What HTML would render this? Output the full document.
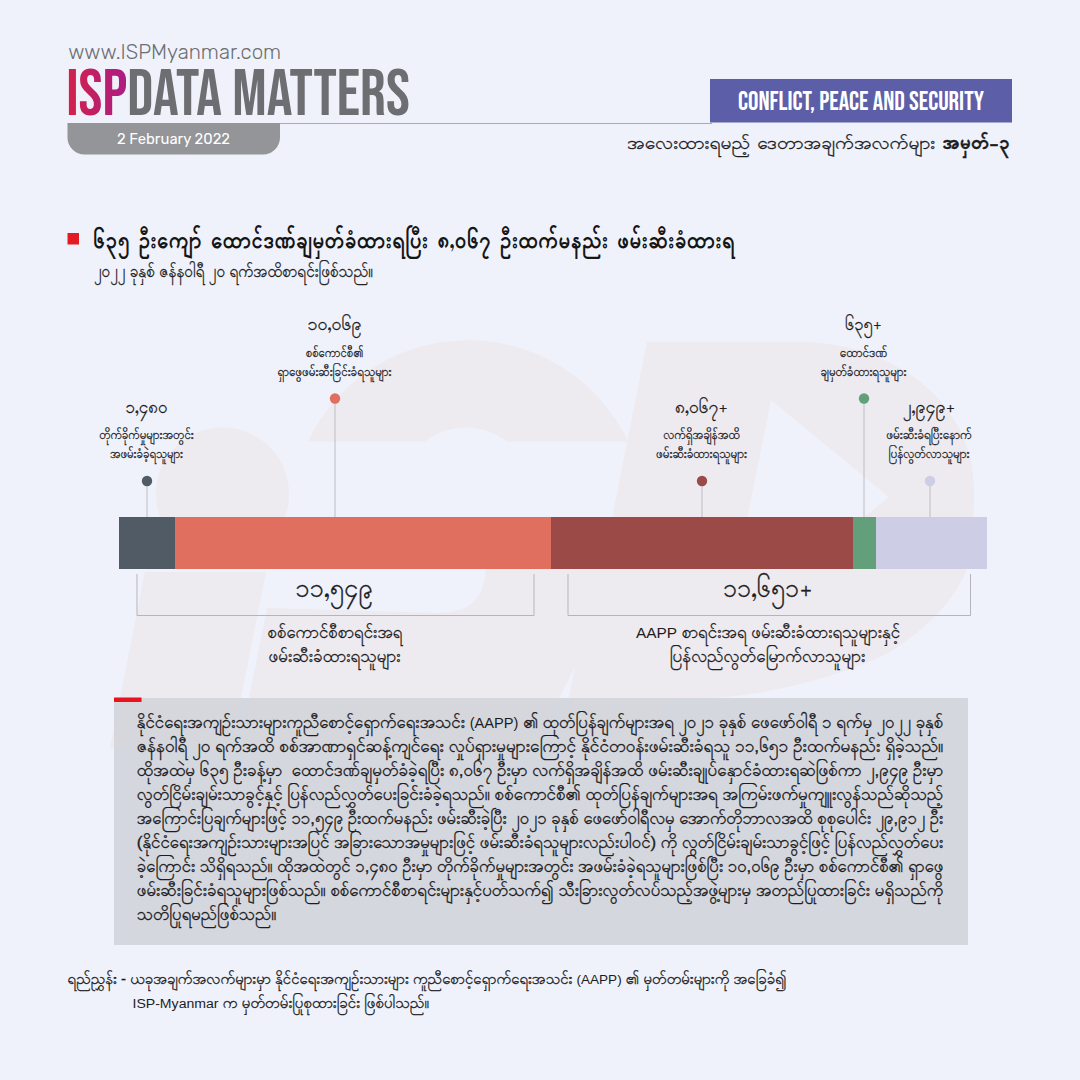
<!DOCTYPE html>
<html lang="my">
<head>
<meta charset="utf-8">
<title>ISP Data Matters</title>
<style>
html,body{margin:0;padding:0;background:#eff2fb;}
body{width:1080px;height:1080px;overflow:hidden;font-family:"Liberation Sans","Padauk","Noto Sans Myanmar",sans-serif;}
svg{display:block;}
text{white-space:pre;}
</style>
</head>
<body>
<svg width="1080" height="1080" viewBox="0 0 1080 1080">
<defs>
<linearGradient id="gisp" gradientUnits="userSpaceOnUse" x1="66" y1="0" x2="124" y2="0">
<stop offset="0" stop-color="#d3224b"/><stop offset="1" stop-color="#ae1d80"/>
</linearGradient>
</defs>
<rect width="1080" height="1080" fill="#eff2fb"/>
<g fill="#edeaf0" fill-rule="evenodd">
<circle cx="222.5" cy="494" r="66.5"/>
<path d="M145 572H266L231 748H110Z"/>
<path d="M308 441.5A177 177 0 0 1 628 441.5H507A67 67 0 0 0 425 441.5Z"/>
<path d="M267 608L440 613Q478 612 484 582L486 569H602L647 342H800C890 342 974 400 974 490C974 520 971 548 966 572C952 602 930 626 890 652C850 672 800 686 751 694C720 698 690 700 664 700L654 748H559L575 666L535 748H239Z M771 400L889 497L799 569H737Z"/>
</g>

<text x="68.2" y="59" font-size="21" font-weight="300" textLength="213" lengthAdjust="spacingAndGlyphs" fill="#6d6e71" style='font-family:"Rubik", "Liberation Sans", sans-serif'>www.ISPMyanmar.com</text>
<text x="66.3" y="114.9" font-size="65.5" font-weight="700" textLength="343.5" lengthAdjust="spacingAndGlyphs" style='font-family:"Bebas Neue", "Liberation Sans", sans-serif;font-synthesis:none'><tspan fill="url(#gisp)">ISP</tspan><tspan fill="#6d6e71">DATA MATTERS</tspan></text>
<rect x="280" y="123" width="432" height="1" fill="#a9abae"/>
<path d="M67.5 123H280V137.5a17 17 0 0 1-17 17H84.5a17 17 0 0 1-17-17Z" fill="#939598"/>
<text x="117" y="143.5" font-size="14.5" font-weight="400" textLength="113" lengthAdjust="spacingAndGlyphs" fill="#ffffff" style='font-family:"Rubik", "Liberation Sans", sans-serif'>2 February 2022</text>
<rect x="710" y="79" width="302" height="43.5" fill="#5c5fa8"/>
<text x="738" y="110.2" font-size="26.6" font-weight="700" textLength="246" lengthAdjust="spacingAndGlyphs" fill="#ffffff" style='font-family:"Bebas Neue", "Liberation Sans", sans-serif;font-synthesis:none'>CONFLICT, PEACE AND SECURITY</text>
<text x="627" y="149.4" font-size="18.5" stroke="#1d1d1f" stroke-width="0.3" textLength="383" lengthAdjust="spacingAndGlyphs" fill="#1d1d1f" style='font-family:"Padauk", "Noto Sans Myanmar", "Myanmar Text", "Liberation Sans", sans-serif'>အလေးထားရမည့် ဒေတာအချက်အလက်များ <tspan font-weight="700">အမှတ်-၃</tspan></text>
<rect x="67.5" y="233" width="11.5" height="11.5" fill="#e31b23"/>
<text x="93" y="247.7" font-size="23.5" font-weight="700" textLength="642" lengthAdjust="spacingAndGlyphs" fill="#161616" style='font-family:"Padauk", "Noto Sans Myanmar", "Myanmar Text", "Liberation Sans", sans-serif' word-spacing="-2">၆၃၅ ဦးကျော် ထောင်ဒဏ်ချမှတ်ခံထားရပြီး ၈,၀၆၇ ဦးထက်မနည်း ဖမ်းဆီးခံထားရ</text>
<text x="94" y="277" font-size="17.5" textLength="279" lengthAdjust="spacingAndGlyphs" fill="#222" style='font-family:"Padauk", "Noto Sans Myanmar", "Myanmar Text", "Liberation Sans", sans-serif' word-spacing="-1.5" stroke="#222" stroke-width="0.3">၂၀၂၂ ခုနှစ် ဇန်နဝါရီ ၂၀ ရက်အထိစာရင်းဖြစ်သည်။</text>
<rect x="119" y="517" width="56" height="52" fill="#515b66"/>
<rect x="175" y="517" width="376" height="52" fill="#e06f60"/>
<rect x="551" y="517" width="302" height="52" fill="#9b4a48"/>
<rect x="853" y="517" width="23" height="52" fill="#649f7c"/>
<rect x="876" y="517" width="111" height="52" fill="#cdcde6"/>
<rect x="146.5" y="481" width="1" height="36" fill="#bcbdc3"/>
<circle cx="147" cy="481" r="5.2" fill="#515b66"/>
<rect x="334.5" y="398.5" width="1" height="118.5" fill="#bcbdc3"/>
<circle cx="335" cy="398.5" r="5.2" fill="#e06f60"/>
<rect x="701.5" y="481" width="1" height="36" fill="#bcbdc3"/>
<circle cx="702" cy="481" r="5.2" fill="#9b4a48"/>
<rect x="863.5" y="398.5" width="1" height="118.5" fill="#bcbdc3"/>
<circle cx="864" cy="398.5" r="5.2" fill="#649f7c"/>
<rect x="929.5" y="481" width="1" height="36" fill="#bcbdc3"/>
<circle cx="930" cy="481" r="5.2" fill="#cdcde6"/>
<path d="M137 574V615.5H534V574" fill="none" stroke="#b4b5b9" stroke-width="1"/>
<path d="M568 574V615.5H970.5V574" fill="none" stroke="#b4b5b9" stroke-width="1"/>
<text x="146.5" y="413" font-size="18" text-anchor="middle" textLength="42" lengthAdjust="spacingAndGlyphs" fill="#1d1d1f" style='font-family:"Padauk", "Noto Sans Myanmar", "Myanmar Text", "Liberation Sans", sans-serif' stroke="#1d1d1f" stroke-width="0.3">၁,၄၈၀</text>
<text x="146.5" y="438.8" font-size="12.5" text-anchor="middle" textLength="94.5" lengthAdjust="spacingAndGlyphs" fill="#1d1d1f" style='font-family:"Padauk", "Noto Sans Myanmar", "Myanmar Text", "Liberation Sans", sans-serif' stroke="#1d1d1f" stroke-width="0.3">တိုက်ခိုက်မှုများအတွင်း</text>
<text x="146.5" y="457.9" font-size="12.5" text-anchor="middle" textLength="73" lengthAdjust="spacingAndGlyphs" fill="#1d1d1f" style='font-family:"Padauk", "Noto Sans Myanmar", "Myanmar Text", "Liberation Sans", sans-serif' stroke="#1d1d1f" stroke-width="0.3">အဖမ်းခံခဲ့ရသူများ</text>
<text x="334.5" y="330.3" font-size="18" text-anchor="middle" textLength="54" lengthAdjust="spacingAndGlyphs" fill="#1d1d1f" style='font-family:"Padauk", "Noto Sans Myanmar", "Myanmar Text", "Liberation Sans", sans-serif' stroke="#1d1d1f" stroke-width="0.3">၁၀,၀၆၉</text>
<text x="334.5" y="356.5" font-size="12.5" text-anchor="middle" textLength="57.5" lengthAdjust="spacingAndGlyphs" fill="#1d1d1f" style='font-family:"Padauk", "Noto Sans Myanmar", "Myanmar Text", "Liberation Sans", sans-serif' stroke="#1d1d1f" stroke-width="0.3">စစ်ကောင်စီ၏</text>
<text x="334.5" y="375.5" font-size="12.5" text-anchor="middle" textLength="114" lengthAdjust="spacingAndGlyphs" fill="#1d1d1f" style='font-family:"Padauk", "Noto Sans Myanmar", "Myanmar Text", "Liberation Sans", sans-serif' stroke="#1d1d1f" stroke-width="0.3">ရှာဖွေဖမ်းဆီးခြင်းခံရသူများ</text>
<text x="701.5" y="413" font-size="18" text-anchor="middle" textLength="53" lengthAdjust="spacingAndGlyphs" fill="#1d1d1f" style='font-family:"Padauk", "Noto Sans Myanmar", "Myanmar Text", "Liberation Sans", sans-serif' stroke="#1d1d1f" stroke-width="0.3">၈,၀၆၇+</text>
<text x="701.5" y="438.8" font-size="12.5" text-anchor="middle" textLength="76.5" lengthAdjust="spacingAndGlyphs" fill="#1d1d1f" style='font-family:"Padauk", "Noto Sans Myanmar", "Myanmar Text", "Liberation Sans", sans-serif' stroke="#1d1d1f" stroke-width="0.3">လက်ရှိအချိန်အထိ</text>
<text x="701.5" y="457.9" font-size="12.5" text-anchor="middle" textLength="91" lengthAdjust="spacingAndGlyphs" fill="#1d1d1f" style='font-family:"Padauk", "Noto Sans Myanmar", "Myanmar Text", "Liberation Sans", sans-serif' stroke="#1d1d1f" stroke-width="0.3">ဖမ်းဆီးခံထားရသူများ</text>
<text x="863.5" y="330.3" font-size="18" text-anchor="middle" textLength="37" lengthAdjust="spacingAndGlyphs" fill="#1d1d1f" style='font-family:"Padauk", "Noto Sans Myanmar", "Myanmar Text", "Liberation Sans", sans-serif' stroke="#1d1d1f" stroke-width="0.3">၆၃၅+</text>
<text x="863.5" y="356.5" font-size="12.5" text-anchor="middle" textLength="47.5" lengthAdjust="spacingAndGlyphs" fill="#1d1d1f" style='font-family:"Padauk", "Noto Sans Myanmar", "Myanmar Text", "Liberation Sans", sans-serif' stroke="#1d1d1f" stroke-width="0.3">ထောင်ဒဏ်</text>
<text x="863.5" y="375.5" font-size="12.5" text-anchor="middle" textLength="86" lengthAdjust="spacingAndGlyphs" fill="#1d1d1f" style='font-family:"Padauk", "Noto Sans Myanmar", "Myanmar Text", "Liberation Sans", sans-serif' stroke="#1d1d1f" stroke-width="0.3">ချမှတ်ခံထားရသူများ</text>
<text x="929" y="413" font-size="18" text-anchor="middle" textLength="52.5" lengthAdjust="spacingAndGlyphs" fill="#1d1d1f" style='font-family:"Padauk", "Noto Sans Myanmar", "Myanmar Text", "Liberation Sans", sans-serif' stroke="#1d1d1f" stroke-width="0.3">၂,၉၄၉+</text>
<text x="929" y="438.8" font-size="12.5" text-anchor="middle" textLength="85.5" lengthAdjust="spacingAndGlyphs" fill="#1d1d1f" style='font-family:"Padauk", "Noto Sans Myanmar", "Myanmar Text", "Liberation Sans", sans-serif' stroke="#1d1d1f" stroke-width="0.3">ဖမ်းဆီးခံရပြီးနောက်</text>
<text x="929" y="457.9" font-size="12.5" text-anchor="middle" textLength="81" lengthAdjust="spacingAndGlyphs" fill="#1d1d1f" style='font-family:"Padauk", "Noto Sans Myanmar", "Myanmar Text", "Liberation Sans", sans-serif' stroke="#1d1d1f" stroke-width="0.3">ပြန်လွတ်လာသူများ</text>
<text x="334" y="597" font-size="26" text-anchor="middle" textLength="77.5" lengthAdjust="spacingAndGlyphs" fill="#1d1d1f" style='font-family:"Padauk", "Noto Sans Myanmar", "Myanmar Text", "Liberation Sans", sans-serif' stroke="#1d1d1f" stroke-width="0.3">၁၁,၅၄၉</text>
<text x="335" y="637.7" font-size="17" text-anchor="middle" textLength="135" lengthAdjust="spacingAndGlyphs" fill="#1d1d1f" style='font-family:"Padauk", "Noto Sans Myanmar", "Myanmar Text", "Liberation Sans", sans-serif' stroke="#1d1d1f" stroke-width="0.3">စစ်ကောင်စီစာရင်းအရ</text>
<text x="334.5" y="662.2" font-size="17" text-anchor="middle" textLength="132" lengthAdjust="spacingAndGlyphs" fill="#1d1d1f" style='font-family:"Padauk", "Noto Sans Myanmar", "Myanmar Text", "Liberation Sans", sans-serif' stroke="#1d1d1f" stroke-width="0.3">ဖမ်းဆီးခံထားရသူများ</text>
<text x="768" y="597" font-size="26" text-anchor="middle" textLength="90" lengthAdjust="spacingAndGlyphs" fill="#1d1d1f" style='font-family:"Padauk", "Noto Sans Myanmar", "Myanmar Text", "Liberation Sans", sans-serif' stroke="#1d1d1f" stroke-width="0.3">၁၁,၆၅၁+</text>
<text x="768" y="637.7" font-size="17" text-anchor="middle" textLength="264" lengthAdjust="spacingAndGlyphs" fill="#1d1d1f" style='font-family:"Liberation Sans", "Padauk", "Noto Sans Myanmar", "Myanmar Text", sans-serif' stroke="#1d1d1f" stroke-width="0.3"><tspan font-size="15.5" stroke="none">AAPP</tspan> စာရင်းအရ ဖမ်းဆီးခံထားရသူများနှင့်</text>
<text x="767.5" y="662.2" font-size="17" text-anchor="middle" textLength="195.5" lengthAdjust="spacingAndGlyphs" fill="#1d1d1f" style='font-family:"Padauk", "Noto Sans Myanmar", "Myanmar Text", "Liberation Sans", sans-serif' stroke="#1d1d1f" stroke-width="0.3">ပြန်လည်လွတ်မြောက်လာသူများ</text>
<rect x="114" y="698" width="854" height="247" fill="#d3d5dc" fill-opacity="0.93"/>
<rect x="114" y="697.5" width="27.5" height="4.5" fill="#e8131b"/>
<text x="136.8" y="727.75" font-size="17" textLength="806.5" lengthAdjust="spacingAndGlyphs" fill="#1d1d1f" style='font-family:"Liberation Sans", "Padauk", "Noto Sans Myanmar", "Myanmar Text", sans-serif' xml:space="preserve" stroke="#1d1d1f" stroke-width="0.35">နိုင်ငံရေးအကျဉ်းသားများကူညီစောင့်ရှောက်ရေးအသင်း <tspan font-size="14.79" stroke="none">(AAPP)</tspan> ၏ ထုတ်ပြန်ချက်များအရ ၂၀၂၁ ခုနှစ် ဖေဖော်ဝါရီ ၁ ရက်မှ ၂၀၂၂ ခုနှစ်</text>
<text x="136.8" y="751.75" font-size="17" textLength="806.5" lengthAdjust="spacingAndGlyphs" fill="#1d1d1f" style='font-family:"Liberation Sans", "Padauk", "Noto Sans Myanmar", "Myanmar Text", sans-serif' xml:space="preserve" stroke="#1d1d1f" stroke-width="0.35">ဇန်နဝါရီ ၂၀ ရက်အထိ စစ်အာဏာရှင်ဆန့်ကျင်ရေး လှုပ်ရှားမှုများကြောင့် နိုင်ငံတဝန်းဖမ်းဆီးခံရသူ ၁၁,၆၅၁ ဦးထက်မနည်း ရှိခဲ့သည်။</text>
<text x="136.8" y="775.75" font-size="17" textLength="806.5" lengthAdjust="spacingAndGlyphs" fill="#1d1d1f" style='font-family:"Liberation Sans", "Padauk", "Noto Sans Myanmar", "Myanmar Text", sans-serif' xml:space="preserve" stroke="#1d1d1f" stroke-width="0.35">ထိုအထဲမှ ၆၃၅ ဦးခန့်မှာ  ထောင်ဒဏ်ချမှတ်ခံခဲ့ရပြီး ၈,၀၆၇ ဦးမှာ လက်ရှိအချိန်အထိ ဖမ်းဆီးချုပ်နှောင်ခံထားရဆဲဖြစ်ကာ ၂,၉၄၉ ဦးမှာ</text>
<text x="136.8" y="799.75" font-size="17" textLength="806.5" lengthAdjust="spacingAndGlyphs" fill="#1d1d1f" style='font-family:"Liberation Sans", "Padauk", "Noto Sans Myanmar", "Myanmar Text", sans-serif' xml:space="preserve" stroke="#1d1d1f" stroke-width="0.35">လွတ်ငြိမ်းချမ်းသာခွင့်နှင့် ပြန်လည်လွှတ်ပေးခြင်းခံခဲ့ရသည်။ စစ်ကောင်စီ၏ ထုတ်ပြန်ချက်များအရ အကြမ်းဖက်မှုကျူးလွန်သည်ဆိုသည့်</text>
<text x="136.8" y="823.75" font-size="17" textLength="806.5" lengthAdjust="spacingAndGlyphs" fill="#1d1d1f" style='font-family:"Liberation Sans", "Padauk", "Noto Sans Myanmar", "Myanmar Text", sans-serif' xml:space="preserve" stroke="#1d1d1f" stroke-width="0.35">အကြောင်းပြချက်များဖြင့် ၁၁,၅၄၉ ဦးထက်မနည်း ဖမ်းဆီးခဲ့ပြီး ၂၀၂၁ ခုနှစ် ဖေဖော်ဝါရီလမှ အောက်တိုဘာလအထိ စုစုပေါင်း ၂၉,၉၁၂ ဦး</text>
<text x="136.8" y="847.75" font-size="17" textLength="806.5" lengthAdjust="spacingAndGlyphs" fill="#1d1d1f" style='font-family:"Liberation Sans", "Padauk", "Noto Sans Myanmar", "Myanmar Text", sans-serif' xml:space="preserve" stroke="#1d1d1f" stroke-width="0.35">(နိုင်ငံရေးအကျဉ်းသားများအပြင် အခြားသောအမှုများဖြင့် ဖမ်းဆီးခံရသူများလည်းပါဝင်) ကို လွတ်ငြိမ်းချမ်းသာခွင့်ဖြင့် ပြန်လည်လွှတ်ပေး</text>
<text x="136.8" y="871.75" font-size="17" textLength="806.5" lengthAdjust="spacingAndGlyphs" fill="#1d1d1f" style='font-family:"Liberation Sans", "Padauk", "Noto Sans Myanmar", "Myanmar Text", sans-serif' xml:space="preserve" stroke="#1d1d1f" stroke-width="0.35">ခဲ့ကြောင်း သိရှိရသည်။ ထိုအထဲတွင် ၁,၄၈၀ ဦးမှာ တိုက်ခိုက်မှုများအတွင်း အဖမ်းခံခဲ့ရသူများဖြစ်ပြီး ၁၀,၀၆၉ ဦးမှာ စစ်ကောင်စီ၏ ရှာဖွေ</text>
<text x="136.8" y="895.75" font-size="17" textLength="806.5" lengthAdjust="spacingAndGlyphs" fill="#1d1d1f" style='font-family:"Liberation Sans", "Padauk", "Noto Sans Myanmar", "Myanmar Text", sans-serif' xml:space="preserve" stroke="#1d1d1f" stroke-width="0.35">ဖမ်းဆီးခြင်းခံရသူများဖြစ်သည်။ စစ်ကောင်စီစာရင်းများနှင့်ပတ်သက်၍ သီးခြားလွတ်လပ်သည့်အဖွဲ့များမှ အတည်ပြုထားခြင်း မရှိသည်ကို</text>
<text x="136.8" y="919.75" font-size="17" textLength="139.5" lengthAdjust="spacingAndGlyphs" fill="#1d1d1f" style='font-family:"Liberation Sans", "Padauk", "Noto Sans Myanmar", "Myanmar Text", sans-serif' xml:space="preserve" stroke="#1d1d1f" stroke-width="0.35">သတိပြုရမည်ဖြစ်သည်။</text>
<text x="67.5" y="983.5" font-size="14.5" textLength="719" lengthAdjust="spacingAndGlyphs" fill="#1d1d1f" style='font-family:"Liberation Sans", "Padauk", "Noto Sans Myanmar", "Myanmar Text", sans-serif' stroke="#1d1d1f" stroke-width="0.3">ရည်ညွှန်း - ယခုအချက်အလက်များမှာ နိုင်ငံရေးအကျဉ်းသားများ ကူညီစောင့်ရှောက်ရေးအသင်း <tspan font-size="13.05" stroke="none">(AAPP)</tspan> ၏ မှတ်တမ်းများကို အခြေခံ၍</text>
<text x="132.5" y="1007.5" font-size="14.5" textLength="296.5" lengthAdjust="spacingAndGlyphs" fill="#1d1d1f" style='font-family:"Liberation Sans", "Padauk", "Noto Sans Myanmar", "Myanmar Text", sans-serif' stroke="#1d1d1f" stroke-width="0.3"><tspan font-size="13.49" stroke="none">ISP-Myanmar</tspan> က မှတ်တမ်းပြုစုထားခြင်း ဖြစ်ပါသည်။</text>
</svg>
</body>
</html>
